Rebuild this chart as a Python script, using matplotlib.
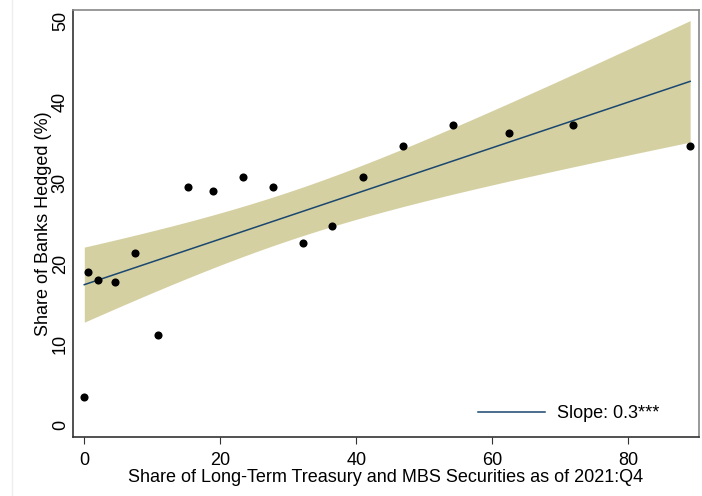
import numpy as np
import matplotlib
matplotlib.use("Agg")
import matplotlib.pyplot as plt
from matplotlib.lines import Line2D

plt.rcParams['font.family'] = ['Liberation Sans', 'DejaVu Sans']

# Data
share_lt = [0.0, 0.5, 2.06, 4.47, 7.46, 10.9, 15.2, 18.9, 23.3, 27.8,
            32.2, 36.5, 41.0, 46.9, 54.2, 62.4, 71.9, 89.1]
share_hedged = [3.5, 18.9, 18.0, 17.7, 21.3, 11.2, 29.5, 29.0, 30.7, 29.5,
                22.6, 24.6, 30.7, 34.5, 37.2, 36.2, 37.2, 34.5]
legend_label = "Slope: 0.3***"
xticks = [0, 20, 40, 60, 80]
yticks = [0, 10, 20, 30, 40, 50]
T_CRIT = 2.12  # t(0.975, df=16)

x = np.array(share_lt)
y = np.array(share_hedged)
n = len(x)
b1, b0 = np.polyfit(x, y, 1)
resid = y - (b0 + b1 * x)
s = np.sqrt(np.sum(resid ** 2) / (n - 2))
sxx = np.sum((x - x.mean()) ** 2)
xg = np.linspace(x.min(), x.max(), 200)
yg = b0 + b1 * xg
half = T_CRIT * s * np.sqrt(1.0 / n + (xg - x.mean()) ** 2 / sxx)

fig = plt.figure(figsize=(7.02, 4.96), dpi=100)
ax = fig.add_axes([73 / 702, 1 - 437 / 496, 626 / 702, 427 / 496])

ax.fill_between(xg, yg - half, yg + half, color='#D5D0A2', linewidth=0, zorder=1)
ax.plot(xg, yg, color='#1A476F', linewidth=1.1, zorder=2)
ax.scatter(x, y, s=34, color='black', zorder=3, linewidths=0)

ax.set_xlim(-1.66, 90.4)
ax.set_ylim(-1.49, 51.4)
ax.set_xticks(xticks)
ax.set_yticks(yticks)
ax.tick_params(axis='x', length=5, width=0.8, color='#333333', labelsize=13, pad=6)
ax.tick_params(axis='y', length=0, labelsize=13, pad=3)
for lab in ax.get_yticklabels():
    lab.set_rotation(90)
    lab.set_va('center')

for side in ['left', 'bottom']:
    ax.spines[side].set_color('#333333')
    ax.spines[side].set_linewidth(1.2)
for side in ['top', 'right']:
    ax.spines[side].set_color('#888888')
    ax.spines[side].set_linewidth(1.2)

ax.set_xlabel("Share of Long-Term Treasury and MBS Securities as of 2021:Q4", fontsize=13, labelpad=0)
ax.set_ylabel("Share of Banks Hedged (%)", fontsize=13)
ax.yaxis.set_label_coords(-0.034, 0.5)

handle = Line2D([], [], color='#1A476F', linewidth=1.1)
ax.legend([handle], [legend_label], loc='center left',
          bbox_to_anchor=((478 - 73) / 626, 0.054), frameon=False,
          fontsize=13, handlelength=3.7, handletextpad=0.65,
          borderpad=0, borderaxespad=0)

fig.add_artist(Line2D([12 / 702, 12 / 702], [0, 1], transform=fig.transFigure,
                      color='#EEEEEE', linewidth=1))

fig.savefig("out.png", dpi=100)
